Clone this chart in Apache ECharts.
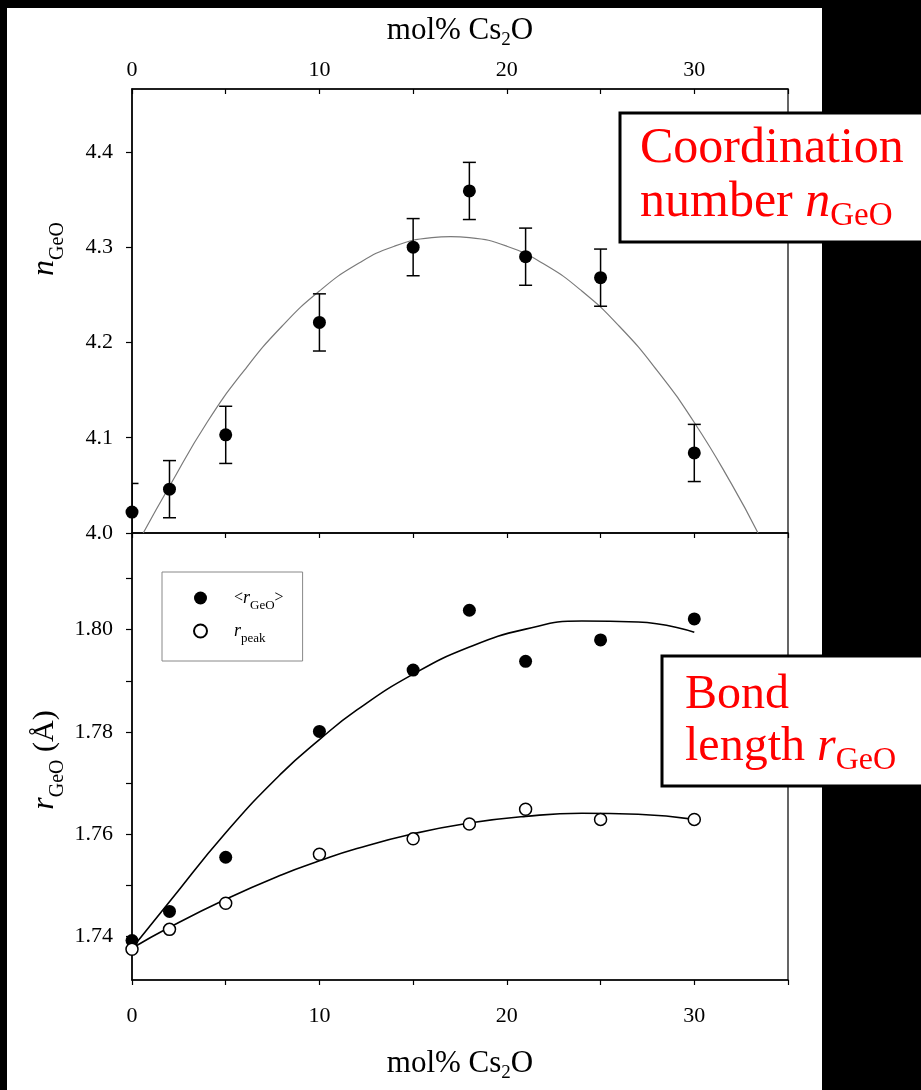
<!DOCTYPE html>
<html><head><meta charset="utf-8">
<script src="https://cdn.jsdelivr.net/npm/echarts@6/dist/echarts.min.js"></script>
<style>
html,body{margin:0;padding:0;background:#000;width:921px;height:1090px;overflow:hidden;}
#paper{position:absolute;left:7px;top:8px;width:815px;height:1082px;background:#fff;}
#c{position:absolute;left:0;top:0;width:921px;height:1090px;}
</style>
</head><body><div id="paper"></div><div id="c"></div>
<script>
// ---- data ----
const molCs2O = [0, 2, 5, 10, 15, 18, 21, 25, 30];
const nGeO = [4.022, 4.046, 4.103, 4.221, 4.300, 4.359, 4.290, 4.268, 4.084];
const nGeOErr = [0.03, 0.03, 0.03, 0.03, 0.03, 0.03, 0.03, 0.03, 0.03];
const nFitX = [0.6, 2, 4, 6, 8, 10, 12, 14, 16, 17, 18, 20, 22, 24, 26, 28, 30, 32, 33.4];
const nFitY = [4.000, 4.049, 4.116, 4.171, 4.217, 4.254, 4.282, 4.301, 4.310, 4.311, 4.310, 4.301, 4.282, 4.254, 4.217, 4.171, 4.116, 4.051, 4.000];
const rGeO = [1.7392, 1.7449, 1.7555, 1.7801, 1.7921, 1.8038, 1.7938, 1.7980, 1.8021];
const rPeak = [1.7375, 1.7414, 1.7465, 1.7561, 1.7591, 1.7620, 1.7649, 1.7629, 1.7629];
const rFitX = [0, 2, 5, 8, 10, 12, 15, 18, 21, 24, 27, 30];
const rGeOFit = [1.7377, 1.7468, 1.7603, 1.7720, 1.7785, 1.7843, 1.7913, 1.7966, 1.8001, 1.8017, 1.8015, 1.7995];
const rPeakFit = [1.7377, 1.7418, 1.7473, 1.7521, 1.7548, 1.7572, 1.7601, 1.7622, 1.7635, 1.7641, 1.7639, 1.7629];
const xLabels = [0, 10, 20, 30];
const xTicks = [0, 5, 10, 15, 20, 25, 30, 35];
const nLabels = [4.0, 4.1, 4.2, 4.3, 4.4];
const rLabels = [1.74, 1.76, 1.78, 1.80];
const rTicks = [1.74, 1.75, 1.76, 1.77, 1.78, 1.79, 1.80, 1.81];

const SERIF = '"Liberation Serif", "Times New Roman", serif';
const chart = echarts.init(document.getElementById('c'), null, {renderer: 'canvas'});
const zip = (xs, ys) => xs.map((x, i) => [x, ys[i]]);

const axisLineStyle = {color: '#000', width: 1.5};
const tickLabel = {color: '#000', fontFamily: SERIF, fontSize: 22};
const titleRich = {
  a: {fontFamily: SERIF, fontSize: 31, color: '#000', lineHeight: 36},
  s: {fontFamily: SERIF, fontSize: 19, color: '#000', lineHeight: 19, verticalAlign: 'top', padding: [18, 0, 0, 0]}
};

function xAxisDef(grid, pos, showLabel, opts) {
  return Object.assign({
    type: 'value', gridIndex: grid, position: pos, min: 0, max: 35,
    axisLine: {show: true, onZero: false, lineStyle: axisLineStyle},
    axisTick: {show: true, inside: pos === 'top', length: 5, customValues: xTicks, lineStyle: {color: '#000', width: 1.2}},
    axisLabel: {show: showLabel, customValues: xLabels, ...tickLabel},
    splitLine: {show: false}
  }, opts || {});
}

const errData = molCs2O.map((x, i) => [x, nGeO[i] - nGeOErr[i], nGeO[i] + nGeOErr[i]]);

const option = {
  backgroundColor: 'transparent',
  animation: false,
  grid: [
    {left: 132, top: 89, width: 656, height: 444, show: true, borderColor: '#000', borderWidth: 1.2},
    {left: 132, top: 533, width: 656, height: 447, show: true, borderColor: '#000', borderWidth: 1.2}
  ],
  xAxis: [
    xAxisDef(0, 'top', true, {
      axisLabel: {show: true, customValues: xLabels, margin: 8, ...tickLabel},
      name: '{a|mol% Cs}{s|2}{a|O}', nameLocation: 'middle', nameGap: 40,
      nameTextStyle: {rich: titleRich}
    }),
    xAxisDef(1, 'bottom', true, {
      axisLabel: {show: true, customValues: xLabels, margin: 25, ...tickLabel},
      name: '{a|mol% Cs}{s|2}{a|O}', nameLocation: 'middle', nameGap: 66,
      nameTextStyle: {rich: titleRich}
    }),
    xAxisDef(1, 'top', false)
  ],
  yAxis: [
    {
      type: 'value', gridIndex: 0, min: 4.0, max: 4.466,
      axisLine: {show: true, lineStyle: axisLineStyle},
      axisTick: {show: true, length: 6, customValues: nLabels, lineStyle: {color: '#000', width: 1.2}},
      axisLabel: {customValues: nLabels, formatter: v => v.toFixed(1), margin: 19, ...tickLabel},
      splitLine: {show: false}
    },
    {
      type: 'value', gridIndex: 1, min: 1.7315, max: 1.8189,
      axisLine: {show: true, lineStyle: axisLineStyle},
      axisTick: {show: true, length: 6, customValues: rTicks, lineStyle: {color: '#000', width: 1.2}},
      axisLabel: {customValues: rLabels, formatter: v => v.toFixed(2), margin: 19, ...tickLabel},
      splitLine: {show: false}
    }
  ],
  legend: {
    data: ['rGeO', 'rPeak'],
    orient: 'vertical', left: 162, top: 572,
    borderColor: '#888', borderWidth: 1,
    padding: [17, 19, 16, 31], itemGap: 10, itemWidth: 13, itemHeight: 13,
    formatter: n => n === 'rGeO' ? '{b|<}{i|r}{s|GeO}{b|>}' : '{i|r}{s|peak}',
    textStyle: {
      padding: [0, 0, 0, 22], color: '#000',
      rich: {
        b: {fontFamily: SERIF, fontSize: 16, color: '#000', lineHeight: 18},
        i: {fontFamily: SERIF, fontSize: 18, fontStyle: 'italic', color: '#000', lineHeight: 18},
        s: {fontFamily: SERIF, fontSize: 13, color: '#000', lineHeight: 13, verticalAlign: 'top', padding: [10, 0, 0, 0]}
      }
    }
  },
  series: [
    {
      name: 'nFit', type: 'line', xAxisIndex: 0, yAxisIndex: 0, data: zip(nFitX, nFitY),
      smooth: true, showSymbol: false, lineStyle: {color: '#7a7a7a', width: 1.2}, z: 2, silent: true
    },
    {
      name: 'nErr', type: 'custom', xAxisIndex: 0, yAxisIndex: 0, clip: true, data: errData,
      encode: {x: 0, y: [1, 2]}, z: 3,
      renderItem: (params, api) => {
        const x = api.value(0);
        const lo = api.coord([x, api.value(1)]);
        const hi = api.coord([x, api.value(2)]);
        const w = 6.5;
        const st = {stroke: '#000', lineWidth: 1.5};
        return {type: 'group', children: [
          {type: 'line', shape: {x1: lo[0], y1: lo[1], x2: hi[0], y2: hi[1]}, style: st},
          {type: 'line', shape: {x1: lo[0] - w, y1: lo[1], x2: lo[0] + w, y2: lo[1]}, style: st},
          {type: 'line', shape: {x1: hi[0] - w, y1: hi[1], x2: hi[0] + w, y2: hi[1]}, style: st}
        ]};
      }
    },
    {
      name: 'nGeO', type: 'scatter', xAxisIndex: 0, yAxisIndex: 0, data: zip(molCs2O, nGeO),
      symbol: 'circle', symbolSize: 13, itemStyle: {color: '#000', opacity: 1}, z: 4
    },
    {
      name: 'rGeOFit', type: 'line', xAxisIndex: 1, yAxisIndex: 1, data: zip(rFitX, rGeOFit),
      smooth: true, showSymbol: false, lineStyle: {color: '#000', width: 1.6}, z: 2, silent: true
    },
    {
      name: 'rPeakFit', type: 'line', xAxisIndex: 1, yAxisIndex: 1, data: zip(rFitX, rPeakFit),
      smooth: true, showSymbol: false, lineStyle: {color: '#000', width: 1.6}, z: 2, silent: true
    },
    {
      name: 'rGeO', type: 'scatter', xAxisIndex: 1, yAxisIndex: 1, data: zip(molCs2O, rGeO),
      symbol: 'circle', symbolSize: 13, itemStyle: {color: '#000', opacity: 1}, z: 4
    },
    {
      name: 'rPeak', type: 'scatter', xAxisIndex: 1, yAxisIndex: 1, data: zip(molCs2O, rPeak),
      symbol: 'circle', symbolSize: 12, itemStyle: {color: '#fff', borderColor: '#000', borderWidth: 1.5, opacity: 1}, z: 5
    }
  ],
  graphic: [
    {
      type: 'text', x: 45, y: 249, rotation: Math.PI / 2, z: 50,
      style: {
        text: '{i|n}{s|GeO}', align: 'center', verticalAlign: 'middle',
        rich: {
          i: {fontFamily: SERIF, fontSize: 32, fontStyle: 'italic', fill: '#000', lineHeight: 38},
          s: {fontFamily: SERIF, fontSize: 20, fill: '#000', lineHeight: 20, verticalAlign: 'top', padding: [22, 0, 0, 0]}
        }
      }
    },
    {
      type: 'text', x: 45, y: 760, rotation: Math.PI / 2, z: 50,
      style: {
        text: '{i|r}{s|GeO}{a| (Å)}', align: 'center', verticalAlign: 'middle',
        rich: {
          i: {fontFamily: SERIF, fontSize: 32, fontStyle: 'italic', fill: '#000', lineHeight: 38},
          a: {fontFamily: SERIF, fontSize: 30, fill: '#000', lineHeight: 38},
          s: {fontFamily: SERIF, fontSize: 20, fill: '#000', lineHeight: 20, verticalAlign: 'top', padding: [22, 0, 0, 0]}
        }
      }
    },
    {
      type: 'rect', z: 60, shape: {x: 620, y: 113, width: 310, height: 129},
      style: {fill: '#fff', stroke: '#000', lineWidth: 3}
    },
    {
      type: 'text', x: 640, y: 149, z: 61,
      style: {text: 'Coordination', fontFamily: SERIF, fontSize: 50, fill: '#ff0000', align: 'left', verticalAlign: 'middle'}
    },
    {
      type: 'text', x: 640, y: 203, z: 61,
      style: {
        text: '{a|number }{i|n}{s|GeO}', align: 'left', verticalAlign: 'middle',
        rich: {
          a: {fontFamily: SERIF, fontSize: 50, fill: '#ff0000', lineHeight: 60},
          i: {fontFamily: SERIF, fontSize: 50, fontStyle: 'italic', fill: '#ff0000', lineHeight: 60},
          s: {fontFamily: SERIF, fontSize: 33, fill: '#ff0000', lineHeight: 33, verticalAlign: 'top', padding: [27, 0, 0, 0]}
        }
      }
    },
    {
      type: 'rect', z: 60, shape: {x: 662, y: 656, width: 270, height: 130},
      style: {fill: '#fff', stroke: '#000', lineWidth: 3}
    },
    {
      type: 'text', x: 685, y: 695, z: 61,
      style: {text: 'Bond', fontFamily: SERIF, fontSize: 48, fill: '#ff0000', align: 'left', verticalAlign: 'middle'}
    },
    {
      type: 'text', x: 685, y: 747, z: 61,
      style: {
        text: '{a|length }{i|r}{s|GeO}', align: 'left', verticalAlign: 'middle',
        rich: {
          a: {fontFamily: SERIF, fontSize: 48, fill: '#ff0000', lineHeight: 60},
          i: {fontFamily: SERIF, fontSize: 48, fontStyle: 'italic', fill: '#ff0000', lineHeight: 60},
          s: {fontFamily: SERIF, fontSize: 32, fill: '#ff0000', lineHeight: 32, verticalAlign: 'top', padding: [28, 0, 0, 0]}
        }
      }
    }
  ]
};
chart.setOption(option);
</script>
</body></html>
